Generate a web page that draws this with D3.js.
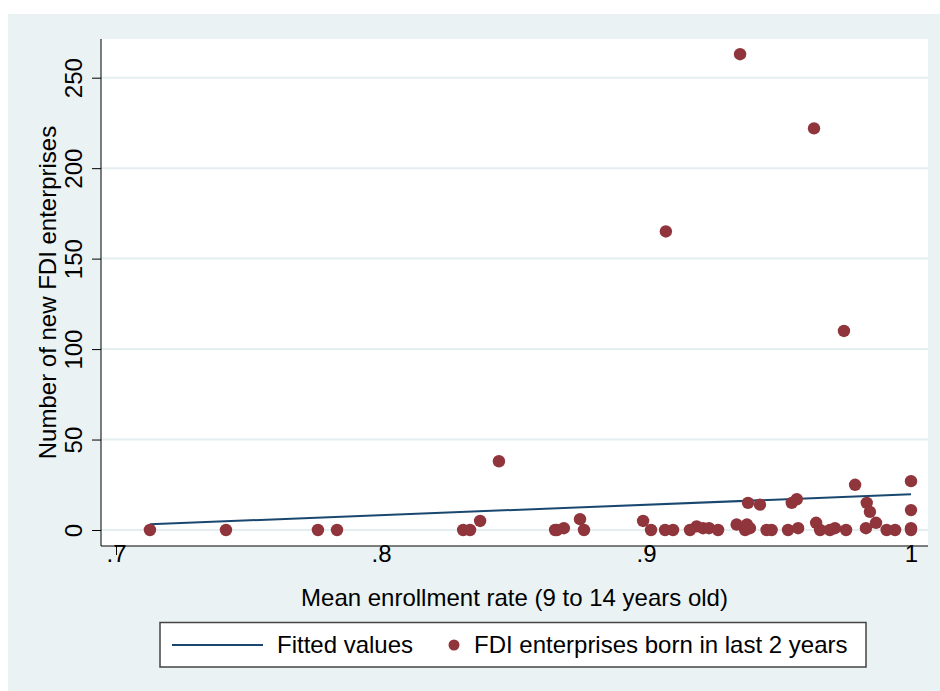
<!DOCTYPE html>
<html>
<head>
<meta charset="utf-8">
<script src="https://cdn.jsdelivr.net/npm/d3@7"></script>
<style>
  body { margin: 0; background: #fff; }
  svg text { font-family: "Liberation Sans", Arial, sans-serif; fill: #000; }
</style>
</head>
<body>
<div id="chart"></div>
<script>
// Mean enrollment rate (x) vs number of new FDI enterprises (y)
var enroll = [0.7128, 0.7415, 0.7762, 0.7834, 0.831, 0.8336, 0.8374, 0.8445, 0.8657, 0.8664,
              0.869, 0.8751, 0.8766, 0.8989, 0.9019, 0.9075, 0.9072, 0.9102, 0.9166, 0.9191,
              0.9215, 0.9238, 0.9272, 0.9342, 0.9355, 0.9374, 0.9385, 0.9381, 0.9392, 0.943,
              0.9455, 0.9474, 0.9536, 0.955, 0.9569, 0.9574, 0.9634, 0.9642, 0.9657, 0.9694,
              0.9713, 0.9747, 0.9755, 0.9789, 0.9833, 0.983, 0.9845, 0.9868, 0.9908, 0.994,
              1.0, 1.0, 1.0, 1.0];
var newFdi = [0, 0, 0, 0, 0, 0, 5, 38, 0, 0,
              1, 6, 0, 5, 0, 165, 0, 0, 0, 2,
              1, 1, 0, 3, 263, 0, 15, 3, 1, 14,
              0, 0, 0, 15, 17, 1, 222, 4, 0, 0,
              1, 110, 0, 25, 15, 1, 10, 4, 0, 0,
              27, 11, 1, 0];
var fitX = [0.7128, 1.0];
var fitY = [3.2, 19.7];
var xTicks = [0.7, 0.8, 0.9, 1];
var xTickLabels = [".7", ".8", ".9", "1"];
var yTicks = [0, 50, 100, 150, 200, 250];

var W = 940, H = 691;
var navy = "#1a476f", maroon = "#90353b";
var fs = 24;

var svg = d3.select("#chart").append("svg")
    .attr("width", W).attr("height", H);

// graph region
svg.append("rect").attr("x", 8).attr("y", 14).attr("width", W - 8).attr("height", H - 14)
    .attr("fill", "#eaf2f3");

var plot = {left: 101, right: 928, top: 39, bottom: 546};
svg.append("rect").attr("x", plot.left).attr("y", plot.top)
    .attr("width", plot.right - plot.left).attr("height", plot.bottom - plot.top)
    .attr("fill", "#fff");

var x = d3.scaleLinear().domain([0.7, 1]).range([116, 911]);
var y = d3.scaleLinear().domain([0, 250]).range([530, 77.7]);

// gridlines
svg.append("g").selectAll("line").data(yTicks).enter().append("line")
    .attr("x1", plot.left).attr("x2", plot.right)
    .attr("y1", function(d) { return y(d); }).attr("y2", function(d) { return y(d); })
    .attr("stroke", "#e4edf0").attr("stroke-width", 2);

// y axis
var yAxis = svg.append("g").attr("transform", "translate(" + plot.left + ",0)")
    .call(d3.axisLeft(y).tickValues(yTicks).tickSize(9).tickPadding(0).tickFormat(d3.format("d")));
yAxis.attr("font-family", null).attr("font-size", null);
yAxis.select(".domain").attr("d", "M0," + plot.top + "V" + plot.bottom).attr("stroke", "#000");
yAxis.selectAll(".tick line").attr("stroke", "#000");
yAxis.selectAll(".tick text").remove();
yAxis.selectAll(".tick").append("text")
    .attr("transform", "translate(-19,0) rotate(-90)")
    .attr("text-anchor", "middle")
    .attr("font-size", fs + "px")
    .text(function(d) { return d; });

// x axis
var xAxis = svg.append("g").attr("transform", "translate(0," + plot.bottom + ")")
    .call(d3.axisBottom(x).tickValues(xTicks).tickSize(9).tickPadding(0)
        .tickFormat(function(d, i) { return xTickLabels[i]; }));
xAxis.attr("font-family", null).attr("font-size", null);
xAxis.select(".domain").attr("d", "M" + plot.left + ",0H" + plot.right).attr("stroke", "#000");
xAxis.selectAll(".tick line").attr("stroke", "#000");
xAxis.selectAll(".tick text").attr("font-size", fs + "px")
    .attr("dy", null).attr("y", 16);

// axis titles
svg.append("text").attr("x", (plot.left + plot.right) / 2).attr("y", 606)
    .attr("text-anchor", "middle").attr("font-size", fs + "px")
    .text("Mean enrollment rate (9 to 14 years old)");
svg.append("text").attr("transform", "translate(56," + ((plot.top + plot.bottom) / 2) + ") rotate(-90)")
    .attr("text-anchor", "middle").attr("font-size", fs + "px")
    .text("Number of new FDI enterprises");

// fitted line
svg.append("line")
    .attr("x1", x(fitX[0])).attr("y1", y(fitY[0]))
    .attr("x2", x(fitX[1])).attr("y2", y(fitY[1]))
    .attr("stroke", navy).attr("stroke-width", 2);

// scatter
svg.append("g").selectAll("circle").data(enroll).enter().append("circle")
    .attr("cx", function(d) { return x(d); })
    .attr("cy", function(d, i) { return y(newFdi[i]); })
    .attr("r", 6.2)
    .attr("fill", maroon);

// legend
var lg = svg.append("g");
lg.append("rect").attr("x", 160).attr("y", 622.5).attr("width", 706).attr("height", 44.5)
    .attr("fill", "#fff").attr("stroke", "#444").attr("stroke-width", 1.5);
lg.append("line").attr("x1", 172).attr("x2", 263).attr("y1", 645).attr("y2", 645)
    .attr("stroke", navy).attr("stroke-width", 2);
lg.append("text").attr("x", 277).attr("y", 653).attr("font-size", fs + "px").text("Fitted values");
lg.append("circle").attr("cx", 454).attr("cy", 645).attr("r", 5.5).attr("fill", maroon);
lg.append("text").attr("x", 474).attr("y", 653).attr("font-size", fs + "px")
    .text("FDI enterprises born in last 2 years");
</script>
</body>
</html>
